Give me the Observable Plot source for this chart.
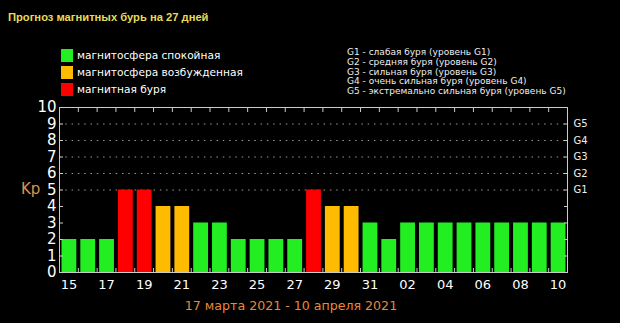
<!DOCTYPE html>
<html>
<head>
<meta charset="utf-8">
<script src="https://cdn.jsdelivr.net/npm/d3@7"></script>
<script src="https://cdn.jsdelivr.net/npm/@observablehq/plot@0.6"></script>
<style>
  html, body { margin: 0; padding: 0; background: #000; }
  #wrap { position: relative; width: 620px; height: 323px; overflow: hidden; background: #000; font-family: "DejaVu Sans", sans-serif; }
  #chart { position: absolute; left: 0; top: 0; }
  .abs { position: absolute; white-space: nowrap; }
  #title { left: 8px; top: 11px; font: bold 11.2px "Liberation Sans", Arial, sans-serif; color: #e6dc58; }
  .lg { position: absolute; left: 61px; height: 13px; font-size: 10.6px; color: #fff; line-height: 13px; }
  .lg span.sw { display: inline-block; width: 12px; height: 13px; vertical-align: top; margin-right: 4px; }
  #glegend { left: 347px; top: 48px; font-size: 9px; line-height: 9.8px; color: #eee; }
  #kp { left: 21px; top: 180px; font-size: 15px; color: #d9954f; }
  #period { left: 0; width: 582px; text-align: center; top: 298px; font-size: 12.6px; color: #e8883a; }
</style>
</head>
<body>
<div id="wrap">
  <div id="chart"></div>
</div>
<script>
const title = "Прогноз магнитных бурь на 27 дней";
const days = ["15","16","17","18","19","20","21","22","23","24","25","26","27","28","29","30","31",
              "01","02","03","04","05","06","07","08","09","10"];
const kp = [2,2,2,5,5,4,4,3,3,2,2,2,2,5,4,4,3,2,3,3,3,3,3,3,3,3,3];
const stateLabels = ["магнитосфера спокойная","магнитосфера возбужденная","магнитная буря"];
const stateColors = ["#22ee22","#ffbb00","#ff0000"];
const gLegend = [
  "G1 - слабая буря (уровень G1)",
  "G2 - средняя буря (уровень G2)",
  "G3 - сильная буря (уровень G3)",
  "G4 - очень сильная буря (уровень G4)",
  "G5 - экстремально сильная буря (уровень G5)"
];
const gLabels = ["G1","G2","G3","G4","G5"];
const gLevels = [5,6,7,8,9];
const yTicks = [0,1,2,3,4,5,6,7,8,9,10];
const yLabel = "Kp";
const periodLabel = "17 марта 2021 - 10 апреля 2021";

const data = days.map((d, i) => ({i, day: d, kp: kp[i], state: kp[i] >= 5 ? 2 : kp[i] >= 4 ? 1 : 0}));
const labelPos = d3.range(0, days.length, 2).map(i => i + 0.5);
const boundaries = d3.range(1, days.length);

const chart = Plot.plot({
  width: 620, height: 323,
  marginLeft: 59, marginRight: 53, marginTop: 107, marginBottom: 51,
  style: {background: "#000", color: "#cccccc", fontFamily: "DejaVu Sans, sans-serif"},
  x: {type: "linear", domain: [0, days.length], axis: null, label: null},
  y: {domain: [0, 10], axis: null, label: null},
  marks: [
    Plot.ruleY(gLevels, {stroke: "#9a9a9a", strokeDasharray: "1.5,4.8"}),
    Plot.rectY(data, {x1: "i", x2: d => d.i + 1, y: "kp", fill: d => stateColors[d.state], insetLeft: 2.5, insetRight: 1.5}),
    Plot.frame({stroke: "#cccccc"}),
    Plot.axisX({anchor: "top", ticks: boundaries, tickSize: -4, tickFormat: () => "", label: null}),
    Plot.axisX({anchor: "bottom", ticks: boundaries, tickSize: -4, tickFormat: () => "", label: null}),
    Plot.axisX({anchor: "bottom", ticks: labelPos, tickFormat: v => days[Math.floor(v)], tickSize: 0, tickPadding: 7, fontSize: 13, fill: "#fff", label: null}),
    Plot.axisY({anchor: "left", ticks: yTicks, tickSize: -4, tickFormat: () => "", label: null}),
    Plot.axisY({anchor: "left", ticks: yTicks, tickSize: 0, tickPadding: 3, fontSize: 15, fill: "#fff", label: null}),
    Plot.axisY({anchor: "right", ticks: yTicks, tickSize: -4, tickFormat: () => "", label: null}),
    Plot.axisY({anchor: "right", ticks: gLevels, tickFormat: v => gLabels[v - 5], tickSize: 0, tickPadding: 6, fontSize: 10, fill: "#eee", label: null})
  ]
});
const wrap = document.getElementById("wrap");
document.getElementById("chart").appendChild(chart);

function addDiv(id, cls, html) {
  const el = document.createElement("div");
  if (id) el.id = id;
  el.className = cls;
  el.innerHTML = html;
  wrap.appendChild(el);
  return el;
}
addDiv("title", "abs", title);
const legTops = [49, 66, 83];
stateLabels.forEach((t, k) => {
  const el = addDiv(null, "lg", `<span class="sw" style="background:${stateColors[k]}"></span>${t}`);
  el.style.top = legTops[k] + "px";
});
addDiv("glegend", "abs", gLegend.join("<br>"));
addDiv("kp", "abs", yLabel);
addDiv("period", "abs", periodLabel);
</script>
</body>
</html>
